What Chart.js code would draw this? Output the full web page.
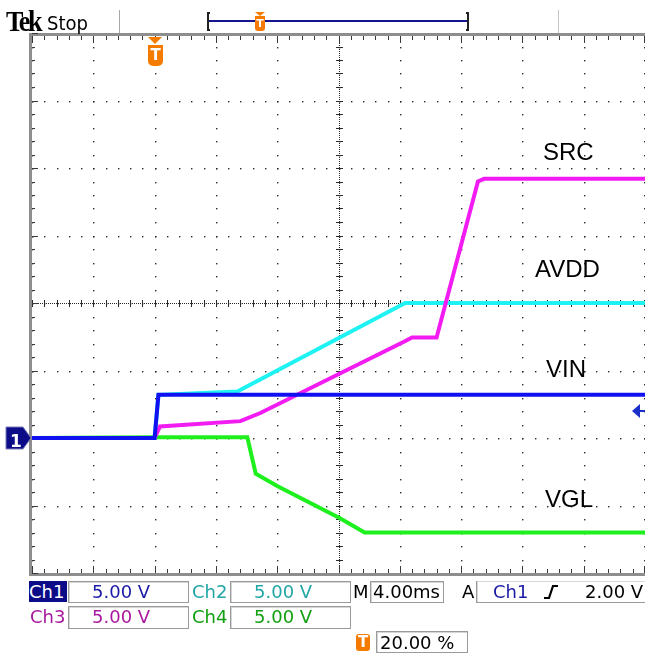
<!DOCTYPE html>
<html>
<head>
<meta charset="utf-8">
<script src="https://cdn.jsdelivr.net/npm/chart.js@4.4.1/dist/chart.umd.min.js"></script>
<style>
  body { margin: 0; background: #fff; }
  #wrap { position: relative; width: 645px; height: 654px; overflow: hidden; }
  #scope { position: absolute; left: 0; top: 0; }
  .t { position: absolute; white-space: nowrap; line-height: 1; }
  .st { font-family: "DejaVu Sans", sans-serif; font-size: 18px; }
  .lbl { font-family: "Liberation Sans", Arial, sans-serif; font-size: 24px; color: #000; }
  .box { position: absolute; border: 1px solid #9a9a9a; box-shadow: inset 1px 1px 0 #d6d6d6; box-sizing: border-box; }
  .tico { position: absolute; background: #f47a00; color: #fff; font: bold 15px "DejaVu Sans", sans-serif;
          text-align: center; box-sizing: border-box; }
  .tri { position: absolute; width: 0; height: 0; border-left: 7px solid transparent;
         border-right: 7px solid transparent; border-top: 7px solid #f47a00; }
</style>
</head>
<body>
<div id="wrap">
  <canvas id="scope" width="645" height="654"></canvas>

  <!-- top bar -->
  <div class="t" style="left:6px;top:5px;font:bold 29px 'Liberation Serif',serif;letter-spacing:-2.5px;transform:scaleX(0.9);transform-origin:left">Tek</div>
  <div class="t" style="left:47px;top:11px;font:20px 'DejaVu Sans Condensed','DejaVu Sans',sans-serif;">Stop</div>
  <div style="position:absolute;left:119px;top:10px;width:1px;height:23px;background:#a8a8a8"></div>
  <div style="position:absolute;left:558px;top:10px;width:1px;height:23px;background:#c4c4c4"></div>
  <div style="position:absolute;left:207px;top:12px;width:3px;height:19px;border:2px solid #222;border-right:none;box-sizing:border-box"></div>
  <div style="position:absolute;left:466px;top:12px;width:3px;height:19px;border:2px solid #222;border-left:none;box-sizing:border-box"></div>
  <div style="position:absolute;left:209px;top:20px;width:258px;height:2px;background:#14148c"></div>
  <div class="tri" style="left:255px;top:12px;border-left-width:5px;border-right-width:5px;border-top-width:4px"></div>
  <div class="tico" style="left:255px;top:16px;width:10px;height:15px;font-size:11px;line-height:15px;border-radius:0 0 3px 3px">T</div>

  <!-- trigger position marker on screen -->
  <div class="tri" style="left:148px;top:37px;border-left-width:7.5px;border-right-width:7.5px"></div>
  <div class="tico" style="left:148px;top:45px;width:15px;height:21px;line-height:21px;border-radius:0 0 5px 5px">T</div>

  <!-- channel 1 ground marker text -->
  <div class="t" style="left:10px;top:431px;font:bold 17px 'DejaVu Sans',sans-serif;color:#fff">1</div>

  <!-- trace labels -->
  <div class="t lbl" style="left:543px;top:140px">SRC</div>
  <div class="t lbl" style="left:535px;top:257px">AVDD</div>
  <div class="t lbl" style="left:546px;top:357px">VIN</div>
  <div class="t lbl" style="left:545px;top:487px">VGL</div>

  <!-- status area row 1 -->
  <div class="t st" style="left:29px;top:581px;width:38px;height:21px;background:#0c0c88;color:#fff;padding-top:2px;box-sizing:border-box">Ch1</div>
  <div class="box" style="left:68px;top:581px;width:121px;height:22px"></div>
  <div class="t st" style="left:92px;top:583px;color:#1a1aa6">5.00 V</div>
  <div class="t st" style="left:192px;top:583px;color:#22a6a6">Ch2</div>
  <div class="box" style="left:230px;top:581px;width:121px;height:22px"></div>
  <div class="t st" style="left:254px;top:583px;color:#22a6a6">5.00 V</div>
  <div class="t st" style="left:353px;top:583px;color:#000">M</div>
  <div class="box" style="left:370px;top:581px;width:74px;height:22px"></div>
  <div class="t st" style="left:373px;top:583px;color:#000">4.00ms</div>
  <div class="t st" style="left:462px;top:583px;color:#000">A</div>
  <div class="box" style="left:476px;top:581px;width:200px;height:22px;border-top:none;border-right:none"></div>
  <div class="t st" style="left:493px;top:583px;color:#1a1aa6">Ch1</div>
  <svg style="position:absolute;left:543px;top:584px" width="16" height="16">
    <polyline points="1,14 6,14 10,2 15,2" fill="none" stroke="#000" stroke-width="2.2"/>
  </svg>
  <div class="t st" style="left:585px;top:583px;color:#000">2.00 V</div>

  <!-- status area row 2 -->
  <div class="t st" style="left:30px;top:608px;color:#a8189e">Ch3</div>
  <div class="box" style="left:68px;top:606px;width:121px;height:23px"></div>
  <div class="t st" style="left:92px;top:608px;color:#a8189e">5.00 V</div>
  <div class="t st" style="left:192px;top:608px;color:#12a012">Ch4</div>
  <div class="box" style="left:230px;top:606px;width:121px;height:23px"></div>
  <div class="t st" style="left:254px;top:608px;color:#12a012">5.00 V</div>

  <!-- status area row 3 -->
  <div class="tico" style="left:356px;top:634px;width:14px;height:17px;line-height:17px;border-radius:3px">T</div>
  <div class="box" style="left:376px;top:631px;width:92px;height:22px"></div>
  <div class="t st" style="left:380px;top:634px;color:#000">20.00 %</div>
</div>

<script>
// screen: 10 x 8 divisions, 4 ms/div, 5 V/div, trigger at 20 %
const X_MIN = -8, X_MAX = 32, X_DIV = 4;
const Y_MIN = -10, Y_MAX = 30, Y_DIV = 5;
const TRIG_LEVEL = 2.0;

const traceLabels = ['VIN', 'SRC', 'AVDD', 'VGL'];

// Ch1 VIN
const vinTime  = [-8, 0, 0.25, 32];
const vinVolts = [0, 0, 3.2, 3.2];
// Ch2 AVDD
const avddTime  = [-8, 0, 0.25, 5.4, 16.35, 32];
const avddVolts = [0, 0, 3.2, 3.45, 10.0, 10.0];
// Ch3 SRC
const srcTime  = [-8, 0, 0.35, 5.6, 6.9, 16.3, 16.8, 18.4, 21.1, 21.5, 32];
const srcVolts = [0, 0, 0.85, 1.25, 1.85, 7.15, 7.45, 7.45, 19.0, 19.2, 19.2];
// Ch4 VGL
const vglTime  = [-8, 0, 6.05, 6.6, 8.0, 12.1, 13.7, 32];
const vglVolts = [0, 0.05, 0.05, -2.65, -3.55, -5.95, -7.0, -7.0];

const pts = (ts, vs) => ts.map((t, i) => ({ x: t, y: vs[i] }));

// tek style dotted graticule, drawn under the traces
const graticule = {
    id: 'graticule',
    beforeDatasetsDraw(chart) {
        const { ctx, chartArea: a, scales: { x, y } } = chart;
        const nx = Math.round((X_MAX - X_MIN) / X_DIV);
        const ny = Math.round((Y_MAX - Y_MIN) / Y_DIV);
        const px = t => Math.min(Math.round(x.getPixelForValue(t)), a.right - 1);
        const py = v => Math.round(y.getPixelForValue(v));
        ctx.save();
        ctx.fillStyle = '#2b2b2b';

        // dots every fifth of a division along the major lines
        for (let i = 0; i <= nx; i++) {
            const cx = px(X_MIN + i * X_DIV);
            for (let j = 0; j <= ny * 5; j++) ctx.fillRect(cx, py(Y_MIN + j * Y_DIV / 5), 1.4, 1.4);
        }
        for (let j = 0; j <= ny; j++) {
            const cy = py(Y_MIN + j * Y_DIV);
            for (let i = 0; i <= nx * 5; i++) ctx.fillRect(px(X_MIN + i * X_DIV / 5), cy, 1.4, 1.4);
        }

        // centre cross with small ticks
        const cxc = px((X_MIN + X_MAX) / 2), cyc = py((Y_MIN + Y_MAX) / 2);
        for (let yy = a.top; yy < a.bottom; yy += 2) ctx.fillRect(cxc, yy, 1, 1);
        for (let xx = a.left; xx < a.right; xx += 2) ctx.fillRect(xx, cyc, 1, 1);
        for (let j = 0; j <= ny * 5; j++) ctx.fillRect(cxc - 3, py(Y_MIN + j * Y_DIV / 5), 7, 1);
        for (let i = 0; i <= nx * 5; i++) ctx.fillRect(px(X_MIN + i * X_DIV / 5), cyc - 3, 1, 7);

        // frame rulers
        ctx.fillStyle = '#8e8e8e';
        ctx.fillRect(a.left - 3, a.top, a.right - a.left + 3, 3);
        ctx.fillRect(a.left - 3, a.top, 3, a.bottom - a.top + 3);
        ctx.fillRect(a.left - 3, a.bottom, a.right - a.left + 3, 3);
        ctx.fillStyle = '#3a3a3a';
        for (let i = 0; i <= nx * 5; i++) {
            const tx = px(X_MIN + i * X_DIV / 5);
            const len = i % 5 === 0 ? 7 : 4;
            ctx.fillRect(tx, a.top + 3, 1, len);
            ctx.fillRect(tx, a.bottom - len, 1, len);
        }
        for (let j = 0; j <= ny * 5; j++) {
            const ty = py(Y_MIN + j * Y_DIV / 5);
            ctx.fillRect(a.left, ty, j % 5 === 0 ? 6 : 3, 1);
        }
        ctx.restore();
    },
    afterDatasetsDraw(chart) {
        const { ctx, scales: { y }, chartArea: a } = chart;
        ctx.save();
        // ch1 ground marker
        const g = y.getPixelForValue(0);
        ctx.fillStyle = '#0c0c88';
        ctx.strokeStyle = '#7a7ab8';
        ctx.lineWidth = 1;
        ctx.beginPath();
        ctx.moveTo(6, g - 11);
        ctx.lineTo(23, g - 11);
        ctx.lineTo(31, g);
        ctx.lineTo(23, g + 11);
        ctx.lineTo(6, g + 11);
        ctx.closePath();
        ctx.fill();
        ctx.stroke();
        // trigger level arrow on the right
        const tl = y.getPixelForValue(TRIG_LEVEL);
        ctx.fillStyle = '#1a30c8';
        ctx.beginPath();
        ctx.moveTo(632, tl);
        ctx.lineTo(640, tl - 7);
        ctx.lineTo(640, tl + 7);
        ctx.closePath();
        ctx.fill();
        ctx.fillRect(639, tl - 1, a.right - 639, 2);
        ctx.restore();
    }
};

const trace = (label, data, color, order) => ({
    label, data, borderColor: color, borderWidth: 4,
    pointRadius: 0, tension: 0, fill: false, order
});

new Chart(document.getElementById('scope'), {
    type: 'line',
    data: {
        datasets: [
            trace(traceLabels[0], pts(vinTime, vinVolts), '#1010f0', 0),
            trace(traceLabels[1], pts(srcTime, srcVolts), '#f21cf2', 1),
            trace(traceLabels[2], pts(avddTime, avddVolts), '#1ef2f2', 2),
            trace(traceLabels[3], pts(vglTime, vglVolts), '#1ef01e', 3)
        ]
    },
    options: {
        responsive: false,
        animation: false,
        events: [],
        layout: { padding: { left: 32, top: 33, right: 0, bottom: 81 } },
        plugins: { legend: { display: false }, tooltip: { enabled: false } },
        scales: {
            x: { type: 'linear', min: X_MIN, max: X_MAX, display: false },
            y: { type: 'linear', min: Y_MIN, max: Y_MAX, display: false }
        }
    },
    plugins: [graticule]
});
</script>
</body>
</html>
